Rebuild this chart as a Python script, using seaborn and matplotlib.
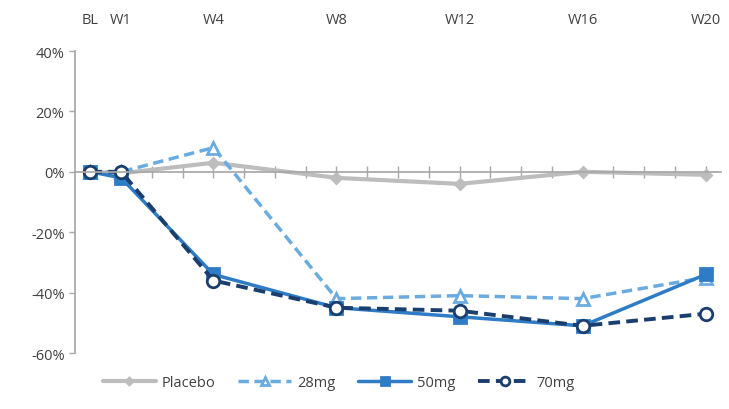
import matplotlib
matplotlib.use("Agg")
import matplotlib.pyplot as plt
import seaborn as sns
import pandas as pd
from matplotlib.ticker import PercentFormatter

weeks = [0, 1, 4, 8, 12, 16, 20]
week_labels = ["BL", "W1", "W4", "W8", "W12", "W16", "W20"]
placebo = [0.0, -0.5, 3.0, -2.0, -4.0, 0.0, -1.0]
mg28 = [0.0, 0.0, 8.0, -42.0, -41.0, -42.0, -35.0]
mg50 = [0.0, -2.0, -34.0, -45.0, -48.0, -51.0, -34.0]
mg70 = [0.0, 0.0, -36.0, -45.0, -46.0, -51.0, -47.0]
series_names = ["Placebo", "28mg", "50mg", "70mg"]

sns.set_theme(style="white")
plt.rcParams["font.family"] = ["Open Sans", "DejaVu Sans"]
plt.rcParams["axes.unicode_minus"] = False

fig = plt.figure(figsize=(7.29, 4.10), dpi=100)
ax = fig.add_axes([75/729, 1-354/410, (721-75)/729, (354-52)/410])

styles = {
    "Placebo": dict(color="#BDBDBD", marker="D", ms=5, mfc="#BDBDBD", mec="#BDBDBD", ls="-", lw=3.0),
    "28mg": dict(color="#6AABE0", marker="^", ms=9, mfc="white", mec="#6AABE0", ls=(0, (3, 1.6)), lw=2.5),
    "50mg": dict(color="#2E7CC6", marker="s", ms=9, mfc="#2E7CC6", mec="#2E7CC6", ls="-", lw=2.5),
    "70mg": dict(color="#1A3F6E", marker="o", ms=9, mfc="white", mec="#1A3F6E", ls=(0, (3, 1.6)), lw=2.8),
}
data = {"Placebo": placebo, "28mg": mg28, "50mg": mg50, "70mg": mg70}

handles = []
for name in series_names:
    df = pd.DataFrame({"week": weeks, "val": data[name]})
    st = styles[name]
    sns.lineplot(data=df, x="week", y="val", ax=ax, color=st["color"], linewidth=st["lw"],
                 linestyle=st["ls"], marker=st["marker"], markersize=st["ms"],
                 markerfacecolor=st["mfc"], markeredgecolor=st["mec"], markeredgewidth=2.0,
                 label=name, legend=False)
    handles.append(ax.lines[-1])

ax.set_xlim(-0.5, 20.5)
ax.set_ylim(-60, 40)
ax.set_yticks([-60, -40, -20, 0, 20, 40])
ax.yaxis.set_major_formatter(PercentFormatter(decimals=0))
ax.tick_params(axis="y", left=True, length=4, color="#A8A8A8", labelsize=10.5, labelcolor="#404040", width=1)

for s in ["top", "right"]:
    ax.spines[s].set_visible(False)
ax.spines["left"].set_color("#A8A8A8")
ax.spines["bottom"].set_color("#A8A8A8")
ax.spines["bottom"].set_position(("data", 0))
ax.set_xticks(range(0, 21))
ax.set_xticklabels([])
ax.tick_params(axis="x", bottom=True, direction="inout", length=8, color="#A8A8A8", width=1)
ax.set_xlabel("")
ax.set_ylabel("")

sec = ax.secondary_xaxis("top")
sec.set_xticks(weeks)
sec.set_xticklabels(week_labels)
sec.tick_params(length=0, labelsize=10.5, labelcolor="#404040", pad=17)
sec.spines["top"].set_visible(False)
sec.set_xlabel("")

leg = fig.legend(handles, series_names, loc="center", bbox_to_anchor=(0.465, 0.065), ncol=4,
                 frameon=False, fontsize=10.5, handlelength=3.6, columnspacing=1.6,
                 handletextpad=0.4, markerscale=0.7)
for t in leg.get_texts():
    t.set_color("#404040")

fig.savefig("out.png", dpi=100)
